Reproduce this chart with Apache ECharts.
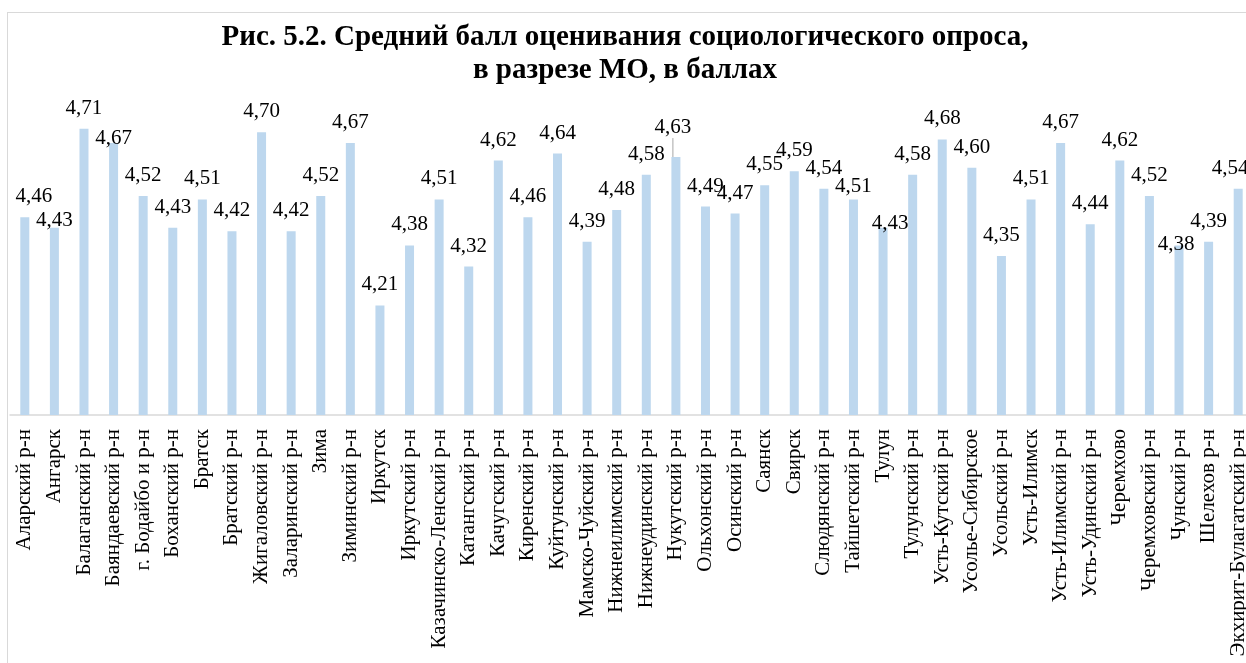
<!DOCTYPE html>
<html>
<head>
<meta charset="utf-8">
<script src="https://cdn.jsdelivr.net/npm/echarts@6/dist/echarts.min.js"></script>
<style>
  html, body { margin: 0; padding: 0; overflow: hidden; background: #fff; }
  #chart {
    position: absolute; left: 7px; top: 12px;
    width: 1260px; height: 700px;
    border: 1px solid #d9d9d9;
  }
</style>
</head>
<body>
<div id="chart"></div>
<script>
// муниципальные образования
var districts = [
  'Аларский р-н', 'Ангарск', 'Балаганский р-н', 'Баяндаевский р-н', 'г. Бодайбо и р-н',
  'Боханский р-н', 'Братск', 'Братский р-н', 'Жигаловский р-н', 'Заларинский р-н',
  'Зима', 'Зиминский р-н', 'Иркутск', 'Иркутский р-н', 'Казачинско-Ленский р-н',
  'Катангский р-н', 'Качугский р-н', 'Киренский р-н', 'Куйтунский р-н', 'Мамско-Чуйский р-н',
  'Нижнеилимский р-н', 'Нижнеудинский р-н', 'Нукутский р-н', 'Ольхонский р-н', 'Осинский р-н',
  'Саянск', 'Свирск', 'Слюдянский р-н', 'Тайшетский р-н', 'Тулун',
  'Тулунский р-н', 'Усть-Кутский р-н', 'Усолье-Сибирское', 'Усольский р-н', 'Усть-Илимск',
  'Усть-Илимский р-н', 'Усть-Удинский р-н', 'Черемхово', 'Черемховский р-н', 'Чунский р-н',
  'Шелехов р-н', 'Экхирит-Булагатский р-н'
];

// средний балл
var scores = [
  4.46, 4.43, 4.71, 4.67, 4.52,
  4.43, 4.51, 4.42, 4.70, 4.42,
  4.52, 4.67, 4.21, 4.38, 4.51,
  4.32, 4.62, 4.46, 4.64, 4.39,
  4.48, 4.58, 4.63, 4.49, 4.47,
  4.55, 4.59, 4.54, 4.51, 4.43,
  4.58, 4.68, 4.60, 4.35, 4.51,
  4.67, 4.44, 4.62, 4.52, 4.38,
  4.39, 4.54
];

var titleText = 'Рис. 5.2. Средний балл оценивания социологического опроса,\nв разрезе МО, в баллах';

// подписи, которые в оригинале сдвинуты (индекс -> [dx, dy])
var labelShift = {
  0: [9, 0],
  1: [0, 13],
  3: [0, 16],
  22: [-3, -9],
  28: [0, 8],
  29: [7, 16],
  39: [-3, 20],
  41: [-8, 0]
};

function drawChart() {
    var myChart = echarts.init(document.getElementById('chart'));

    var barData = scores.map(function (v, i) {
        if (i === 22) {
            return { value: v, labelLine: { show: true } };
        }
        return v;
    });

    var option = {
        animation: false,
        title: {
            text: titleText,
            left: 612,
            top: 3,
            textAlign: 'center',
            textStyle: {
                fontFamily: 'Liberation Serif',
                fontWeight: 'bold',
                fontSize: 29,
                lineHeight: 33,
                color: '#000'
            }
        },
        grid: {
            left: 2,
            top: 84,
            width: 1243,
            height: 318
        },
        xAxis: {
            type: 'category',
            data: districts,
            axisLine: { lineStyle: { color: '#d9d9d9', width: 1.5 } },
            axisTick: { show: false },
            axisLabel: {
                interval: 0,
                rotate: 90,
                margin: 14,
                fontFamily: 'Liberation Serif',
                fontSize: 21,
                color: '#000'
            }
        },
        yAxis: {
            type: 'value',
            min: 3.9,
            max: 4.8,
            show: false
        },
        series: [{
            type: 'bar',
            data: barData,
            barWidth: 9,
            itemStyle: { color: '#BDD7EE' },
            label: {
                show: true,
                position: 'top',
                distance: 10,
                fontFamily: 'Liberation Serif',
                fontSize: 21,
                color: '#000',
                formatter: function (p) {
                    return p.value.toFixed(2).replace('.', ',');
                }
            },
            labelLine: {
                show: false,
                lineStyle: { color: '#a6a6a6', width: 1 }
            },
            labelLayout: function (p) {
                var s = labelShift[p.dataIndex];
                if (!s) return {};
                return { dx: s[0], dy: s[1] };
            }
        }]
    };

    myChart.setOption(option);
}

drawChart();
</script>
</body>
</html>
